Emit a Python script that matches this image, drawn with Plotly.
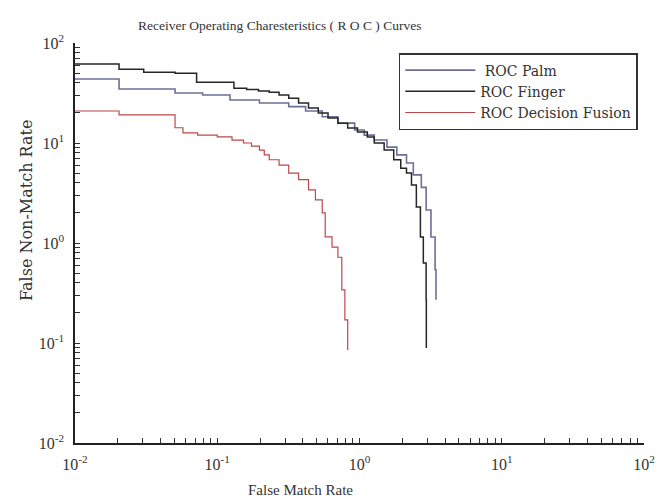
import plotly.graph_objects as go

# Data (False Match Rate vs False Non-Match Rate)
palm_fmr = [0.01, 0.0204, 0.0505, 0.0789, 0.123, 0.198, 0.318, 0.418, 0.547, 0.705, 0.925, 1.08,
            1.27, 1.56, 1.83, 2.14, 2.39, 2.72, 2.94, 3.18, 3.40, 3.45]
palm_fnmr = [43.7, 34.7, 31.6, 30.2, 26.9, 25.1, 23.1, 20.9, 18.3, 15.8, 13.5, 12.0,
             10.7, 9.1, 7.6, 6.3, 4.8, 3.6, 2.14, 1.15, 0.54, 0.27]

finger_fmr = [0.01, 0.0204, 0.0304, 0.0505, 0.0716, 0.131, 0.161, 0.195, 0.232, 0.272, 0.318, 0.373,
              0.438, 0.513, 0.601, 0.705, 0.826, 0.968, 1.135, 1.27, 1.49, 1.74, 1.95, 2.14, 2.32,
              2.51, 2.68, 2.81, 2.94, 2.95]
finger_fnmr = [61.7, 54.6, 50.9, 49.8, 40.5, 35.2, 34.3, 33.1, 32.1, 30.2, 28.0, 25.1,
               22.4, 20.0, 17.8, 15.8, 14.1, 12.9, 11.5, 10.0, 8.5, 6.8, 5.6, 5.0, 3.8,
               2.29, 1.15, 0.63, 0.27, 0.089]

fusion_fmr = [0.01, 0.0204, 0.0505, 0.0574, 0.0728, 0.1, 0.127, 0.153, 0.174, 0.198, 0.214, 0.232,
              0.272, 0.318, 0.373, 0.438, 0.490, 0.547, 0.574, 0.641, 0.705, 0.751, 0.789, 0.826]
fusion_fnmr = [20.9, 19.1, 14.2, 12.6, 12.0, 11.5, 10.7, 10.0, 9.3, 8.5, 7.6, 6.8,
               6.0, 5.0, 4.3, 3.4, 2.7, 2.0, 1.15, 0.91, 0.72, 0.34, 0.17, 0.085]

major_vals = [0.01, 0.1, 1, 10, 100]
major_text = ["10<sup>-2</sup>", "10<sup>-1</sup>", "10<sup>0</sup>", "10<sup>1</sup>", "10<sup>2</sup>"]
minor_vals = [m * 10 ** e for e in range(-2, 2) for m in range(2, 10)]

title_text = "Receiver Operating Charesteristics ( R O C ) Curves"
x_title = "False Match Rate"
y_title = "False Non-Match Rate"

serif = "DejaVu Serif, Liberation Serif, serif"
serif2 = "Liberation Serif, DejaVu Serif, serif"

fig = go.Figure()
fig.add_trace(go.Scatter(x=palm_fmr, y=palm_fnmr, mode="lines", line_shape="hv",
                         name=" ROC Palm", line=dict(color="#6b7099", width=1.6)))
fig.add_trace(go.Scatter(x=finger_fmr, y=finger_fnmr, mode="lines", line_shape="hv",
                         name="ROC Finger", line=dict(color="#262626", width=1.5)))
fig.add_trace(go.Scatter(x=fusion_fmr, y=fusion_fnmr, mode="lines", line_shape="hv",
                         name="ROC Decision Fusion", line=dict(color="#c0474a", width=1.2)))

all_vals = major_vals + minor_vals
all_text = major_text + [""] * len(minor_vals)

axis_common = dict(
    type="log",
    range=[-2, 2],
    showgrid=False,
    zeroline=False,
    showline=True,
    linecolor="#222",
    linewidth=1.5,
    mirror=False,
    ticks="inside",
    ticklen=5,
    tickwidth=1.2,
    tickcolor="#333",
    tickmode="array",
    tickvals=all_vals,
    ticktext=all_text,
    tickfont=dict(family=serif2, size=16, color="#333"),
)

fig.update_layout(
    width=667,
    height=501,
    margin=dict(l=75, r=12, t=43, b=58),
    paper_bgcolor="white",
    plot_bgcolor="white",
    showlegend=True,
    legend=dict(
        x=0.569, y=0.975, xanchor="left", yanchor="top",
        bgcolor="white", bordercolor="#333", borderwidth=1.5,
        font=dict(family=serif, size=14, color="#333"),
        itemwidth=70,
        tracegroupgap=0,
    ),
    xaxis=dict(ticklabelstandoff=6, **axis_common),
    yaxis=dict(ticklabelstandoff=6, **axis_common),
    annotations=[
        dict(text=title_text, xref="paper", yref="paper", x=(283 - 75) / 580, y=(443 - 25) / 400,
             xanchor="center", yanchor="middle", showarrow=False,
             font=dict(family=serif2, size=13.5, color="#333")),
        dict(text=x_title, xref="paper", yref="paper", x=(305 - 75) / 580, y=-(490 - 443) / 400,
             xanchor="center", yanchor="middle", showarrow=False,
             font=dict(family=serif2, size=15, color="#333")),
        dict(text=y_title, xref="paper", yref="paper", x=-(75 - 25) / 580, y=(443 - 210) / 400,
             xanchor="center", yanchor="middle", showarrow=False, textangle=-90,
             font=dict(family=serif, size=16, color="#333")),
    ],
)

fig.write_html("out.html")
